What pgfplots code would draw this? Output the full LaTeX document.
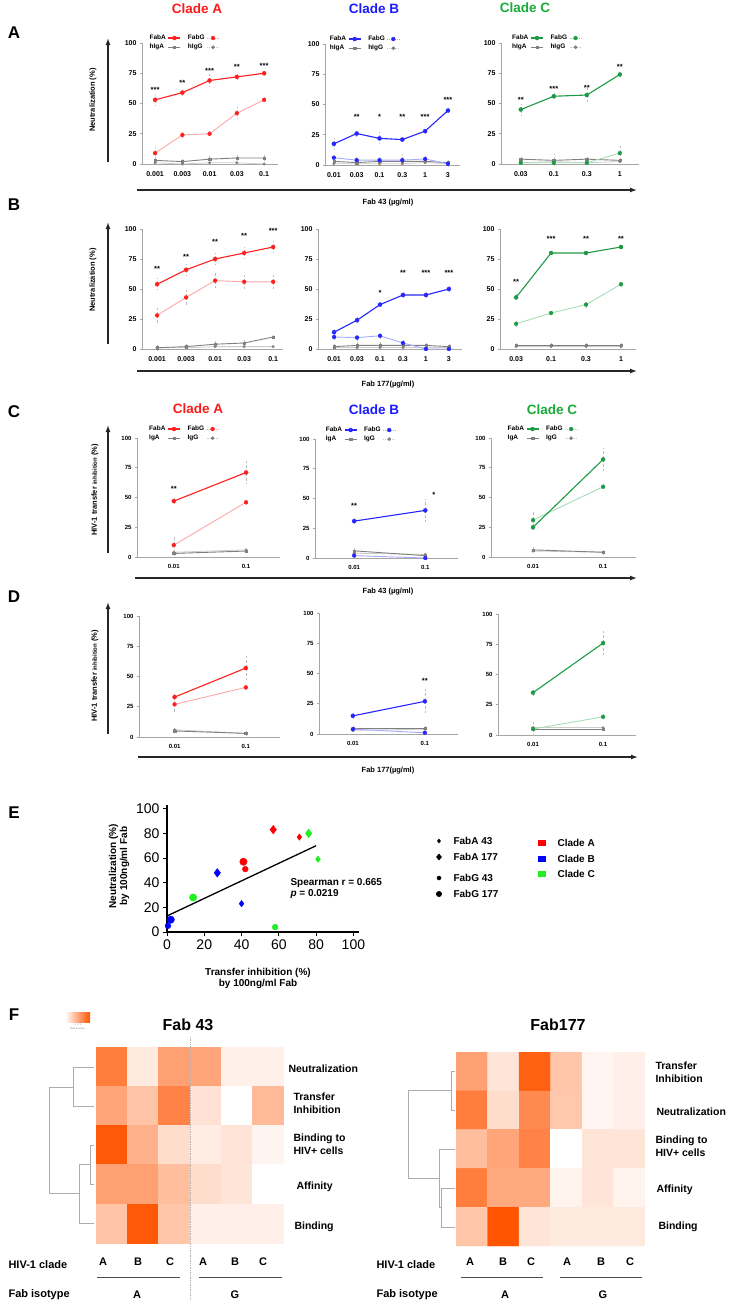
\documentclass[border=0pt]{standalone}
\usepackage{fontspec}
\setmainfont{Liberation Sans}
\usepackage{pgfplots}
\pgfplotsset{compat=1.18}
\usetikzlibrary{arrows.meta,shapes.geometric}
\definecolor{cA}{HTML}{FF1F1F}\definecolor{cAl}{HTML}{FFA8A8}
\definecolor{cB}{HTML}{2626FF}\definecolor{cBl}{HTML}{A9A9FF}
\definecolor{cC}{HTML}{1E9A44}\definecolor{cCl}{HTML}{A6DDB5}
\definecolor{tA}{HTML}{FF1A1A}\definecolor{tB}{HTML}{1A1AFF}\definecolor{tC}{HTML}{1AAA3A}
\definecolor{eR}{HTML}{FF0000}\definecolor{eB}{HTML}{0000FF}\definecolor{eG}{HTML}{22EE22}
\definecolor{heat}{RGB}{255,84,0}
\newcommand{\fsb}[1]{\fontsize{#1}{#1}\selectfont\bfseries}
\newcommand{\fsn}[1]{\fontsize{#1}{#1}\selectfont}
\tikzset{
 sA/.style={line width=1.1pt, mark=*, mark size=2.1pt, every mark/.append style={line width=0.2pt}},
 sG/.style={line width=0.9pt, mark=*, mark size=2pt, every mark/.append style={line width=0.2pt}},
 sIA/.style={gray, line width=0.9pt, mark=square*, mark size=1.2pt, every mark/.append style={line width=0.3pt}},
 sIG/.style={gray!40, line width=0.8pt, mark=*, mark size=1.4pt, mark options={fill=gray!70!brown, draw=gray!70!brown, line width=0.2pt}},
 arr/.style={line width=1.3pt, black!85, -{Latex[length=7pt,width=5pt]}},
}
\pgfplotsset{
 lc/.style={
  scale only axis, clip=false,
  axis x line*=bottom, axis y line*=left,
  axis line style={draw=gray!70, line width=0.9pt},
  ymin=0, ymax=100, ytick={0,25,50,75,100},
  tick align=outside, major tick length=2pt,
  ytick style={draw=gray!70, line width=0.6pt},
  xtick style={draw=none},
  /pgf/number format/assume math mode=true,
  tick label style={font=\fsb{7}},
  xticklabel style={yshift=-2pt},
  legend columns=2, legend plot pos=right, legend cell align=left,
  legend style={draw=none, fill=none, inner sep=0pt, font=\fsb{6.5}, row sep=-1pt,
    /tikz/every even column/.append style={column sep=5pt}},
  legend image code/.code={\draw[mark repeat=2,mark phase=2,##1] plot coordinates {(0pt,0pt) (6pt,0pt) (12pt,0pt)};},
 },
 smallticks/.style={tick label style={font=\fsb{6}}},
 ebar/.style={error bars/.cd, y dir=both, y explicit, error mark=none, error bar style={gray!55, line width=0.5pt, densely dashed}},
 stars/.style={only marks, mark=none, forget plot, nodes near coords, point meta=explicit symbolic,
   nodes near coords style={anchor=center, inner sep=0pt, font=\fsb{7.5}}},
 hm/.style={scale only axis, hide axis, enlargelimits=false, xmin=-0.5, xmax=5.5, ymin=-0.5, ymax=4.5, y dir=reverse,
   colormap={heatmap}{rgb255=(255,255,255) rgb255=(255,84,0)}, point meta min=0, point meta max=1},
}
\begin{document}
\begin{tikzpicture}
\useasboundingbox (0pt,0pt) rectangle (736pt,-1304pt);
% ---------------- panel letters and titles
\foreach \L/\Y in {A/33,B/205,C/412,D/597,E/813,F/1015}{\node[font=\fsb{17}] at (14pt,-\Y pt) {\L};}
\node[text=tA, font=\fsb{13.5}] at (197pt,-9pt) {Clade A};
\node[text=tB, font=\fsb{13.5}] at (374pt,-9pt) {Clade B};
\node[text=tC, font=\fsb{13.5}] at (525pt,-8pt) {Clade C};
\node[text=tA, font=\fsb{13.5}] at (198pt,-409pt) {Clade A};
\node[text=tB, font=\fsb{13.5}] at (374pt,-410pt) {Clade B};
\node[text=tC, font=\fsb{13.5}] at (552pt,-410pt) {Clade C};
% ---------------- arrows and axis titles
\draw[arr] (108pt,-162pt) -- (108pt,-38pt);
\node[rotate=90, font=\fsb{7.5}] at (93pt,-100pt) {Neutralization (\%)};
\draw[arr] (137pt,-190pt) -- (637pt,-190pt);
\node[font=\fsb{7.5}] at (388pt,-203pt) {Fab 43 (µg/ml)};
\draw[arr] (108pt,-344pt) -- (108pt,-222pt);
\node[rotate=90, font=\fsb{7.5}] at (93pt,-280pt) {Neutralization (\%)};
\draw[arr] (137pt,-371pt) -- (637pt,-371pt);
\node[font=\fsb{7.5}] at (388pt,-385pt) {Fab 177(µg/ml)};
\draw[arr] (108pt,-553pt) -- (108pt,-425pt);
\node[rotate=90, font=\fsb{7.5}] at (95pt,-490pt) {HIV-1 transfer {\fsn{6}inhibition} (\%)};
\draw[arr] (135pt,-578pt) -- (637pt,-578pt);
\node[font=\fsb{7.5}] at (388pt,-592pt) {Fab 43 (µg/ml)};
\draw[arr] (108pt,-734pt) -- (108pt,-602pt);
\node[rotate=90, font=\fsb{7.5}] at (95pt,-676pt) {HIV-1 transfer {\fsn{6}inhibition} (\%)};
\draw[arr] (138pt,-757pt) -- (638pt,-757pt);
\node[font=\fsb{7.5}] at (388pt,-771pt) {Fab 177(µg/ml)};

% ================= PANEL A =================
\begin{axis}[lc, at={(142pt,-164pt)}, anchor=south west, width=136pt, height=121pt,
  xmin=-0.48, xmax=4.51, xtick={0,...,4}, xticklabels={0.001,0.003,0.01,0.03,0.1},
  legend style={at={(0.04,1.085)}, anchor=north west}]
\addlegendimage{cA, sA}
\addlegendimage{cAl, sG, densely dotted, mark options={solid, fill=cA, draw=cA, line width=0.2pt}}
\addlegendimage{sIA}
\addlegendimage{sIG, densely dotted, mark options={solid, fill=gray, draw=gray}}
\addplot[sIG, forget plot] table[row sep=\\] {x y\\ 0 1\\ 1 0\\ 2 1\\ 3 1\\ 4 0\\};
\addplot[sIA, forget plot, ebar] table[row sep=\\, y error=e] {x y e\\ 0 3 3\\ 1 2 3\\ 2 4 4\\ 3 5 3\\ 4 5 3\\};
\addplot[cAl, sG, mark options={fill=cA, draw=cA, line width=0.2pt}, forget plot, ebar] table[row sep=\\, y error=e] {x y e\\ 0 9 5\\ 1 24 4\\ 2 25 2\\ 3 42 5\\ 4 53 2\\};
\addplot[cA, sA, forget plot, ebar] table[row sep=\\, y error=e] {x y e\\ 0 53 5\\ 1 59 3\\ 2 69 5\\ 3 72 3\\ 4 75 2\\};
\addplot[stars] table[row sep=\\, meta=s] {x y s\\ 0 61 ***\\ 1 67 **\\ 2 77 ***\\ 3 80 **\\ 4 81 ***\\};
\legend{FabA, FabG, hIgA, hIgG}
\end{axis}

\begin{axis}[lc, at={(325pt,-165pt)}, anchor=south west, width=135pt, height=121pt,
  xmin=-0.39, xmax=5.53, xtick={0,...,5}, xticklabels={0.01,0.03,0.1,0.3,1,3},
  legend style={at={(0.02,1.085)}, anchor=north west}]
\addlegendimage{cB, sA}
\addlegendimage{cBl, sG, densely dotted, mark options={solid, fill=cB, draw=cB, line width=0.2pt}}
\addlegendimage{sIA}
\addlegendimage{sIG, densely dotted, mark options={solid, fill=gray, draw=gray}}
\addplot[sIG, forget plot] table[row sep=\\] {x y\\ 0 1\\ 1 1\\ 2 1\\ 3 1\\ 4 2\\ 5 1\\};
\addplot[sIA, forget plot, ebar] table[row sep=\\, y error=e] {x y e\\ 0 3 3\\ 1 2 3\\ 2 3 3\\ 3 3 3\\ 4 3 3\\ 5 2 3\\};
\addplot[cBl, sG, mark options={fill=cB, draw=cB, line width=0.2pt}, forget plot, ebar] table[row sep=\\, y error=e] {x y e\\ 0 6 4\\ 1 4 4\\ 2 4 3\\ 3 4 5\\ 4 5 3\\ 5 1 3\\};
\addplot[cB, sA, forget plot, ebar] table[row sep=\\, y error=e] {x y e\\ 0 17.5 5\\ 1 26 3\\ 2 22 5\\ 3 21 2\\ 4 28 2\\ 5 45 2\\};
\addplot[stars] table[row sep=\\, meta=s] {x y s\\ 1 40 **\\ 2 40 *\\ 3 40 **\\ 4 40 ***\\ 5 54 ***\\};
\legend{FabA, FabG, hIgA, hIgG}
\end{axis}

\begin{axis}[lc, at={(501pt,-164pt)}, anchor=south west, width=138pt, height=121pt,
  xmin=-0.6, xmax=3.58, xtick={0,...,3}, xticklabels={0.03,0.1,0.3,1},
  legend style={at={(0.065,1.085)}, anchor=north west}]
\addlegendimage{cC, sA}
\addlegendimage{cCl, sG, densely dotted, mark options={solid, fill=cC, draw=cC, line width=0.2pt}}
\addlegendimage{sIA}
\addlegendimage{sIG, densely dotted, mark options={solid, fill=gray, draw=gray}}
\addplot[sIG, forget plot] table[row sep=\\] {x y\\ 0 1\\ 1 2\\ 2 1\\ 3 2\\};
\addplot[sIA, forget plot, ebar] table[row sep=\\, y error=e] {x y e\\ 0 4 2\\ 1 3 5\\ 2 4 2\\ 3 3 2\\};
\addplot[cCl, sG, mark options={fill=cC, draw=cC, line width=0.2pt}, forget plot, ebar] table[row sep=\\, y error=e] {x y e\\ 0 1 2\\ 1 1 2\\ 2 1 2\\ 3 9 6\\};
\addplot[cC, sA, forget plot, ebar] table[row sep=\\, y error=e] {x y e\\ 0 45 5\\ 1 56 3\\ 2 57 6\\ 3 74 2\\};
\addplot[stars] table[row sep=\\, meta=s] {x y s\\ 0 53 **\\ 1 62 ***\\ 2 63 **\\ 3 80 **\\};
\legend{FabA, FabG, hIgA, hIgG}
\end{axis}

% ================= PANEL B =================
\begin{axis}[lc, at={(142pt,-349pt)}, anchor=south west, width=141pt, height=120pt,
  xmin=-0.52, xmax=4.34, xtick={0,...,4}, xticklabels={0.001,0.003,0.01,0.03,0.1}]
\addplot[sIG, forget plot] table[row sep=\\] {x y\\ 0 1\\ 1 1\\ 2 2\\ 3 2\\ 4 2\\};
\addplot[sIA, forget plot, ebar] table[row sep=\\, y error=e] {x y e\\ 0 1 3\\ 1 2 3\\ 2 4 4\\ 3 5 3\\ 4 10 2\\};
\addplot[cAl, sG, mark options={fill=cA, draw=cA, line width=0.2pt}, forget plot, ebar] table[row sep=\\, y error=e] {x y e\\ 0 28 6\\ 1 43 6\\ 2 57 6\\ 3 56 6\\ 4 56 6\\};
\addplot[cA, sA, forget plot, ebar] table[row sep=\\, y error=e] {x y e\\ 0 54 5\\ 1 66 5\\ 2 75 5\\ 3 80 5\\ 4 85 5\\};
\addplot[stars] table[row sep=\\, meta=s] {x y s\\ 0 67 **\\ 1 77 **\\ 2 89 **\\ 3 94 **\\ 4 98 ***\\};
\end{axis}

\begin{axis}[lc, at={(318pt,-349pt)}, anchor=south west, width=144pt, height=120pt,
  xmin=-0.7, xmax=5.57, xtick={0,...,5}, xticklabels={0.01,0.03,0.1,0.3,1,3}]
\addplot[sIG, forget plot] table[row sep=\\] {x y\\ 0 1\\ 1 1\\ 2 1\\ 3 1\\ 4 1\\ 5 1\\};
\addplot[sIA, forget plot, ebar] table[row sep=\\, y error=e] {x y e\\ 0 2 3\\ 1 3 3\\ 2 3 3\\ 3 3 3\\ 4 3 2\\ 5 2 2\\};
\addplot[cBl, sG, mark options={fill=cB, draw=cB, line width=0.2pt}, forget plot, ebar] table[row sep=\\, y error=e] {x y e\\ 0 10 3\\ 1 9.5 3\\ 2 11 4\\ 3 5 4\\ 4 0 2\\ 5 0 2\\};
\addplot[cB, sA, forget plot, ebar] table[row sep=\\, y error=e] {x y e\\ 0 14 3\\ 1 24 3\\ 2 37 2\\ 3 45 3\\ 4 45 4\\ 5 50 4\\};
\addplot[stars] table[row sep=\\, meta=s] {x y s\\ 2 47 *\\ 3 63 **\\ 4 63 ***\\ 5 63 ***\\};
\end{axis}

\begin{axis}[lc, at={(500pt,-349pt)}, anchor=south west, width=136pt, height=120pt,
  xmin=-0.46, xmax=3.43, xtick={0,...,3}, xticklabels={0.03,0.1,0.3,1}]
\addplot[sIG, forget plot] table[row sep=\\] {x y\\ 0 2\\ 1 2\\ 2 2\\ 3 2\\};
\addplot[sIA, forget plot, ebar] table[row sep=\\, y error=e] {x y e\\ 0 3 2\\ 1 3 2\\ 2 3 2\\ 3 3 2\\};
\addplot[cCl, sG, mark options={fill=cC, draw=cC, line width=0.2pt}, forget plot, ebar] table[row sep=\\, y error=e] {x y e\\ 0 21 3\\ 1 30 2\\ 2 37 4\\ 3 54 2\\};
\addplot[cC, sA, forget plot, ebar] table[row sep=\\, y error=e] {x y e\\ 0 43 4\\ 1 80 1\\ 2 80 2\\ 3 85 2\\};
\addplot[stars] table[row sep=\\, meta=s] {x y s\\ 0 56 **\\ 1 92 ***\\ 2 92 **\\ 3 92 **\\};
\end{axis}

% ================= PANEL C =================
\begin{axis}[lc, smallticks, at={(137pt,-557pt)}, anchor=south west, width=143pt, height=119pt,
  xmin=-0.51, xmax=1.47, xtick={0,1}, xticklabels={0.01,0.1},
  legend style={at={(0.07,1.12)}, anchor=north west}]
\addlegendimage{cA, sA}
\addlegendimage{cAl, sG, densely dotted, mark options={solid, fill=cA, draw=cA, line width=0.2pt}}
\addlegendimage{sIA}
\addlegendimage{sIG, densely dotted, mark options={solid, fill=gray, draw=gray}}
\addplot[sIG, forget plot] table[row sep=\\] {x y\\ 0 4\\ 1 6\\};
\addplot[sIA, forget plot, ebar] table[row sep=\\, y error=e] {x y e\\ 0 3 2\\ 1 5 2\\};
\addplot[cAl, sG, mark options={fill=cA, draw=cA, line width=0.2pt}, forget plot, ebar] table[row sep=\\, y error=e] {x y e\\ 0 10 7\\ 1 46 2\\};
\addplot[cA, sA, forget plot, ebar] table[row sep=\\, y error=e] {x y e\\ 0 47 3\\ 1 71 10\\};
\addplot[stars] table[row sep=\\, meta=s] {x y s\\ 0 57 **\\};
\legend{FabA, FabG, IgA, IgG}
\end{axis}

\begin{axis}[lc, smallticks, at={(315pt,-558pt)}, anchor=south west, width=143pt, height=119pt,
  xmin=-0.55, xmax=1.46, xtick={0,1}, xticklabels={0.01,0.1},
  legend style={at={(0.06,1.12)}, anchor=north west}]
\addlegendimage{cB, sA}
\addlegendimage{cBl, sG, densely dotted, mark options={solid, fill=cB, draw=cB, line width=0.2pt}}
\addlegendimage{sIA}
\addlegendimage{sIG, densely dotted, mark options={solid, fill=gray, draw=gray}}
\addplot[sIG, forget plot] table[row sep=\\] {x y\\ 0 4\\ 1 3\\};
\addplot[sIA, forget plot, ebar] table[row sep=\\, y error=e] {x y e\\ 0 6 3\\ 1 2 2\\};
\addplot[cBl, sG, mark options={fill=cB, draw=cB, line width=0.2pt}, forget plot] table[row sep=\\] {x y\\ 0 2\\ 1 0\\};
\addplot[cB, sA, forget plot, ebar] table[row sep=\\, y error=e] {x y e\\ 0 31 3\\ 1 40 10\\};
\addplot[stars] table[row sep=\\, meta=s] {x y s\\ 0 44 **\\ 1.12 53 *\\};
\legend{FabA, FabG, IgA, IgG}
\end{axis}

\begin{axis}[lc, smallticks, at={(491pt,-557pt)}, anchor=south west, width=145pt, height=119pt,
  xmin=-0.6, xmax=1.47, xtick={0,1}, xticklabels={0.01,0.1},
  legend style={at={(0.1,1.12)}, anchor=north west}]
\addlegendimage{cC, sA}
\addlegendimage{cCl, sG, densely dotted, mark options={solid, fill=cC, draw=cC, line width=0.2pt}}
\addlegendimage{sIA}
\addlegendimage{sIG, densely dotted, mark options={solid, fill=gray, draw=gray}}
\addplot[sIG, forget plot] table[row sep=\\] {x y\\ 0 5\\ 1 4\\};
\addplot[sIA, forget plot, ebar] table[row sep=\\, y error=e] {x y e\\ 0 6 2\\ 1 4 2\\};
\addplot[cCl, sG, mark options={fill=cC, draw=cC, line width=0.2pt}, forget plot, ebar] table[row sep=\\, y error=e] {x y e\\ 0 31 8\\ 1 59 2\\};
\addplot[cC, sA, forget plot, ebar] table[row sep=\\, y error=e] {x y e\\ 0 25 3\\ 1 82 10\\};
\legend{FabA, FabG, IgA, IgG}
\end{axis}

% ================= PANEL D =================
\begin{axis}[lc, smallticks, at={(139pt,-737pt)}, anchor=south west, width=141pt, height=121pt,
  xmin=-0.5, xmax=1.48, xtick={0,1}, xticklabels={0.01,0.1}]
\addplot[sIG, forget plot] table[row sep=\\] {x y\\ 0 6\\ 1 3\\};
\addplot[sIA, forget plot, ebar] table[row sep=\\, y error=e] {x y e\\ 0 5 2\\ 1 3 2\\};
\addplot[cAl, sG, mark options={fill=cA, draw=cA, line width=0.2pt}, forget plot, ebar] table[row sep=\\, y error=e] {x y e\\ 0 27 7\\ 1 41 2\\};
\addplot[cA, sA, forget plot, ebar] table[row sep=\\, y error=e] {x y e\\ 0 33 4\\ 1 57 10\\};
\end{axis}

\begin{axis}[lc, smallticks, at={(319pt,-734pt)}, anchor=south west, width=139pt, height=121pt,
  xmin=-0.47, xmax=1.46, xtick={0,1}, xticklabels={0.01,0.1}]
\addplot[sIG, forget plot] table[row sep=\\] {x y\\ 0 3\\ 1 4\\};
\addplot[sIA, forget plot, ebar] table[row sep=\\, y error=e] {x y e\\ 0 5 2\\ 1 5 2\\};
\addplot[cBl, sG, mark options={fill=cB, draw=cB, line width=0.2pt}, forget plot, ebar] table[row sep=\\, y error=e] {x y e\\ 0 4 2\\ 1 1 1\\};
\addplot[cB, sA, forget plot, ebar] table[row sep=\\, y error=e] {x y e\\ 0 15 4\\ 1 27 10\\};
\addplot[stars] table[row sep=\\, meta=s] {x y s\\ 1 44 **\\};
\end{axis}

\begin{axis}[lc, smallticks, at={(498pt,-735pt)}, anchor=south west, width=138pt, height=121pt,
  xmin=-0.5, xmax=1.47, xtick={0,1}, xticklabels={0.01,0.1}]
\addplot[sIG, forget plot] table[row sep=\\] {x y\\ 0 6\\ 1 6\\};
\addplot[sIA, forget plot, ebar] table[row sep=\\, y error=e] {x y e\\ 0 5 2\\ 1 5 2\\};
\addplot[cCl, sG, mark options={fill=cC, draw=cC, line width=0.2pt}, forget plot, ebar] table[row sep=\\, y error=e] {x y e\\ 0 5 6\\ 1 15 2\\};
\addplot[cC, sA, forget plot, ebar] table[row sep=\\, y error=e] {x y e\\ 0 35 3\\ 1 76 10\\};
\end{axis}

% ================= PANEL E =================
\begin{axis}[scale only axis, clip=false, at={(167pt,-932pt)}, anchor=south west, width=192pt, height=127pt,
  xmin=0, xmax=103, ymin=0, ymax=103,
  axis x line*=bottom, axis y line*=left, axis line style={black, line width=1.3pt},
  xtick={0,20,...,100}, ytick={0,20,...,100}, tick align=outside, major tick length=4pt,
  tick style={black, line width=1pt},
  /pgf/number format/assume math mode=true,
  tick label style={font=\fsn{14}},
  scatter/classes={a={draw=eR, fill=eR}, b={draw=eB, fill=eB}, c={draw=eG, fill=eG}}]
\addplot[black, line width=1.3pt] coordinates {(0,13) (80,70)};
\addplot[scatter, only marks, mark=diamond*, mark size=3.2pt, scatter src=explicit symbolic] table[row sep=\\, meta=c] {x y c\\ 71 77 a\\ 40 23 b\\ 81 59 c\\};
\addplot[scatter, only marks, mark=diamond*, mark size=4.3pt, scatter src=explicit symbolic] table[row sep=\\, meta=c] {x y c\\ 57 83 a\\ 27 48 b\\ 76 80 c\\};
\addplot[scatter, only marks, mark=*, mark size=2.9pt, scatter src=explicit symbolic] table[row sep=\\, meta=c] {x y c\\ 42 51 a\\ 0.5 5 b\\ 58 4 c\\};
\addplot[scatter, only marks, mark=*, mark size=3.7pt, scatter src=explicit symbolic] table[row sep=\\, meta=c] {x y c\\ 41 57 a\\ 2 10 b\\ 14 28 c\\};
\end{axis}
\node[rotate=90, align=center, font=\fsb{10}] at (119pt,-866pt) {Neutralization (\%)\\[1pt]by 100ng/ml Fab};
\node[align=center, font=\fsb{10}] at (258pt,-978pt) {Transfer inhibition (\%)\\[1pt]by 100ng/ml Fab};
\node[anchor=west, font=\fsb{10}] at (287pt,-883pt) {Spearman r = 0.665};
\node[anchor=west, font=\fsb{10}] at (287pt,-894pt) {\textit{p} = 0.0219};
% legend E
\node[diamond, fill=black, inner sep=0pt, minimum width=4pt, minimum height=5pt] at (439pt,-841pt) {};
\node[diamond, fill=black, inner sep=0pt, minimum width=6pt, minimum height=7pt] at (439pt,-857pt) {};
\node[circle, fill=black, inner sep=0pt, minimum size=4.5pt] at (439pt,-878pt) {};
\node[circle, fill=black, inner sep=0pt, minimum size=6pt] at (439pt,-894pt) {};
\node[anchor=west, font=\fsb{10}] at (450pt,-841pt) {FabA 43};
\node[anchor=west, font=\fsb{10}] at (450pt,-857pt) {FabA 177};
\node[anchor=west, font=\fsb{10}] at (450pt,-878pt) {FabG 43};
\node[anchor=west, font=\fsb{10}] at (450pt,-894pt) {FabG 177};
\fill[eR] (538pt,-840pt) rectangle (546pt,-846pt);
\fill[eB] (538pt,-856pt) rectangle (546pt,-862pt);
\fill[eG] (538pt,-871pt) rectangle (546pt,-877pt);
\node[anchor=west, font=\fsb{10}] at (554pt,-843pt) {Clade A};
\node[anchor=west, font=\fsb{10}] at (554pt,-859pt) {Clade B};
\node[anchor=west, font=\fsb{10}] at (554pt,-874pt) {Clade C};

% ================= PANEL F =================
% colour key
\shade[left color=white, right color=heat] (65pt,-1012pt) rectangle (90pt,-1022pt);
\node[font=\fsn{2.5}, text=gray] at (77.5pt,-1025pt) {-1\ \ 0\ \ 1};
\node[font=\fsn{2.5}, text=gray] at (77.5pt,-1029pt) {Row Z-Score};
\node[font=\fsb{16}] at (188pt,-1025pt) {Fab 43};
\node[font=\fsb{16}] at (558pt,-1025pt) {Fab177};
\begin{axis}[hm, at={(96pt,-1243pt)}, anchor=south west, width=188pt, height=196pt]
\addplot[matrix plot*, mesh/cols=6, point meta=explicit] table[row sep=\\, meta=c] {x y c\\
0 0 0.75\\ 1 0 0.12\\ 2 0 0.55\\ 3 0 0.52\\ 4 0 0.08\\ 5 0 0.08\\
0 1 0.52\\ 1 1 0.35\\ 2 1 0.72\\ 3 1 0.17\\ 4 1 0\\ 5 1 0.4\\
0 2 0.97\\ 1 2 0.45\\ 2 2 0.2\\ 3 2 0.11\\ 4 2 0.16\\ 5 2 0.06\\
0 3 0.55\\ 1 3 0.55\\ 2 3 0.38\\ 3 3 0.2\\ 4 3 0.15\\ 5 3 0\\
0 4 0.35\\ 1 4 0.97\\ 2 4 0.33\\ 3 4 0.09\\ 4 4 0.09\\ 5 4 0.09\\};
\end{axis}
\begin{axis}[hm, at={(456pt,-1246pt)}, anchor=south west, width=189pt, height=194pt]
\addplot[matrix plot*, mesh/cols=6, point meta=explicit] table[row sep=\\, meta=c] {x y c\\
0 0 0.55\\ 1 0 0.15\\ 2 0 0.92\\ 3 0 0.33\\ 4 0 0.05\\ 5 0 0.09\\
0 1 0.75\\ 1 1 0.2\\ 2 1 0.68\\ 3 1 0.32\\ 4 1 0.05\\ 5 1 0.09\\
0 2 0.38\\ 1 2 0.52\\ 2 2 0.72\\ 3 2 0\\ 4 2 0.15\\ 5 2 0.15\\
0 3 0.75\\ 1 3 0.5\\ 2 3 0.5\\ 3 3 0.07\\ 4 3 0.15\\ 5 3 0.07\\
0 4 0.33\\ 1 4 1.0\\ 2 4 0.15\\ 3 4 0.12\\ 4 4 0.12\\ 5 4 0.12\\};
\end{axis}
% dotted separator
\draw[gray!60, densely dotted, line width=0.7pt] (190pt,-1037pt) -- (190pt,-1300pt);
% dendrograms
\begin{scope}[gray!65, line width=0.8pt]
\draw (94pt,-1067pt) -- (73pt,-1067pt) -- (73pt,-1106pt) -- (94pt,-1106pt);
\draw (94pt,-1145pt) -- (90pt,-1145pt) -- (90pt,-1184pt) -- (94pt,-1184pt);
\draw (90pt,-1164pt) -- (79pt,-1164pt) -- (79pt,-1223pt) -- (94pt,-1223pt);
\draw (73pt,-1087pt) -- (49pt,-1087pt) -- (49pt,-1193pt) -- (79pt,-1193pt);
\draw (455pt,-1071pt) -- (451pt,-1071pt) -- (451pt,-1110pt) -- (455pt,-1110pt);
\draw (455pt,-1188pt) -- (441pt,-1188pt) -- (441pt,-1227pt) -- (455pt,-1227pt);
\draw (455pt,-1149pt) -- (439pt,-1149pt) -- (439pt,-1207pt) -- (441pt,-1207pt);
\draw (451pt,-1090pt) -- (408pt,-1090pt) -- (408pt,-1178pt) -- (439pt,-1178pt);
\end{scope}
% row labels
\begin{scope}[font=\fsb{10.5}, anchor=west, align=left]
\node[anchor=west] at (285pt,-1069pt) {Neutralization};
\node[anchor=west, align=left] at (290pt,-1103pt) {Transfer\\[2pt]Inhibition};
\node[anchor=west, align=left] at (290pt,-1144pt) {Binding to\\[2pt]HIV+ cells};
\node[anchor=west] at (293pt,-1187pt) {Affinity};
\node[anchor=west] at (291pt,-1227pt) {Binding};
\node[anchor=west, align=left] at (652pt,-1072pt) {Transfer\\[2pt]Inhibition};
\node[anchor=west] at (653pt,-1112pt) {Neutralization};
\node[anchor=west, align=left] at (652pt,-1146pt) {Binding to\\[2pt]HIV+ cells};
\node[anchor=west] at (653pt,-1190pt) {Affinity};
\node[anchor=west] at (655pt,-1227pt) {Binding};
\end{scope}
% bottom labels
\begin{scope}[font=\fsb{11}]
\node[anchor=west] at (5pt,-1265pt) {HIV-1 clade};
\node[anchor=west] at (5pt,-1295pt) {Fab isotype};
\node[anchor=west] at (373pt,-1265pt) {HIV-1 clade};
\node[anchor=west] at (373pt,-1295pt) {Fab isotype};
\foreach \x/\t in {103/A,138/B,170/C,203/A,235/B,263/C,470/A,503/B,531/C,567/A,601/B,630/C}{\node at (\x pt,-1262pt) {\t};}
\node at (137pt,-1295pt) {A}; \node at (235pt,-1295pt) {G};
\node at (505pt,-1295pt) {A}; \node at (603pt,-1295pt) {G};
\end{scope}
\draw[black!70, line width=0.9pt] (97pt,-1277pt) -- (180pt,-1277pt);
\draw[black!70, line width=0.9pt] (199pt,-1277pt) -- (282pt,-1277pt);
\draw[black!70, line width=0.9pt] (461pt,-1277pt) -- (543pt,-1277pt);
\draw[black!70, line width=0.9pt] (560pt,-1277pt) -- (642pt,-1277pt);
\end{tikzpicture}
\end{document}
